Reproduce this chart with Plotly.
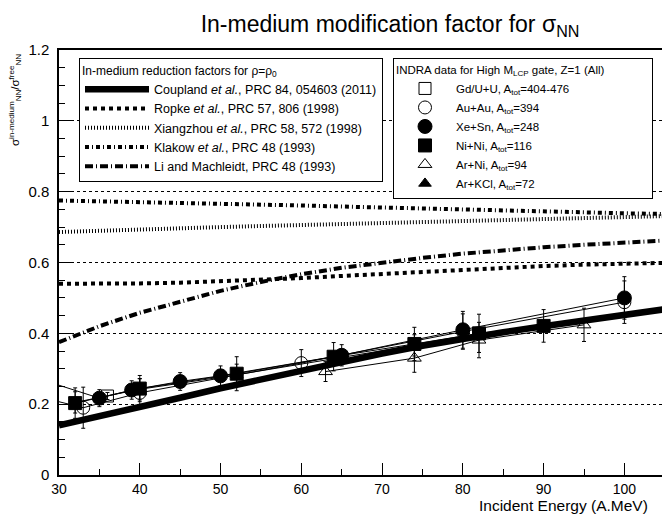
import plotly.graph_objects as go

# ---------------- data ----------------
E_theory = [30, 35, 40, 45, 50, 55, 60, 65, 70, 75, 80, 85, 90, 95, 100, 105]
coupland = [0.140, 0.165, 0.190, 0.218, 0.245, 0.270, 0.295, 0.320, 0.343, 0.365, 0.385, 0.403, 0.420, 0.437, 0.453, 0.468]
ropke    = [0.540, 0.540, 0.541, 0.543, 0.547, 0.551, 0.556, 0.562, 0.568, 0.574, 0.580, 0.585, 0.590, 0.594, 0.597, 0.599]
xiang    = [0.686, 0.690, 0.693, 0.697, 0.700, 0.703, 0.706, 0.709, 0.712, 0.715, 0.718, 0.721, 0.724, 0.727, 0.729, 0.731]
klakow   = [0.775, 0.773, 0.771, 0.769, 0.766, 0.764, 0.761, 0.758, 0.755, 0.752, 0.749, 0.747, 0.744, 0.741, 0.739, 0.737]
li_mach  = [0.375, 0.420, 0.458, 0.490, 0.520, 0.545, 0.567, 0.585, 0.600, 0.613, 0.625, 0.635, 0.643, 0.650, 0.656, 0.662]

theory_names = [
    "Coupland <i>et al.</i>, PRC 84, 054603 (2011)",
    "Ropke <i>et al.</i>, PRC 57, 806 (1998)",
    "Xiangzhou <i>et al.</i>, PRC 58, 572 (1998)",
    "Klakow <i>et al.</i>, PRC 48 (1993)",
    "Li and Machleidt, PRC 48 (1993)",
]

# INDRA data
gdu_E,  gdu_v,  gdu_err  = [36], [0.223], [0.010]
auau_E, auau_v, auau_err = [25, 33, 40, 60, 80, 100], [0.235, 0.190, 0.232, 0.316, 0.405, 0.488], [0.05, 0.058, 0.040, 0.038, 0.050, 0.060]
xesn_E, xesn_v, xesn_err = [25, 35, 39, 45, 50, 65, 80, 100], [0.290, 0.217, 0.240, 0.264, 0.280, 0.338, 0.410, 0.500], [0.03, 0.024, 0.026, 0.025, 0.028, 0.030, 0.052, 0.060]
nini_E, nini_v, nini_err = [32, 40, 52, 64, 74, 82, 90], [0.203, 0.244, 0.286, 0.334, 0.370, 0.400, 0.421], [0.043, 0.037, 0.048, 0.040, 0.047, 0.054, 0.046]
arni_E, arni_v, arni_err = [63, 74, 82, 95], [0.292, 0.330, 0.381, 0.424], [0.028, 0.040, 0.050, 0.047]
arkcl_E, arkcl_v, arkcl_err = [32, 40, 52, 74], [0.205, 0.242, 0.283, 0.366], [0.03, 0.03, 0.03, 0.03]

data_names = [
    "Gd/U+U, A<sub>tot</sub>=404-476",
    "Au+Au, A<sub>tot</sub>=394",
    "Xe+Sn, A<sub>tot</sub>=248",
    "Ni+Ni, A<sub>tot</sub>=116",
    "Ar+Ni, A<sub>tot</sub>=94",
    "Ar+KCl, A<sub>tot</sub>=72",
]

x_ticks = [30, 40, 50, 60, 70, 80, 90, 100]
y_ticks = [0, 0.2, 0.4, 0.6, 0.8, 1.0, 1.2]

# ---------------- figure ----------------
fig = go.Figure()

theory = [
    (coupland, dict(width=6.5, dash="solid")),
    (ropke,    dict(width=4, dash="4px,4px")),
    (xiang,    dict(width=4, dash="1px,2px")),
    (klakow,   dict(width=4, dash="4px,3px,1px,3px")),
    (li_mach,  dict(width=4, dash="8px,3px,1px,3px")),
]
for i, ((vals, ls), name) in enumerate(zip(theory, theory_names)):
    fig.add_trace(go.Scatter(x=E_theory, y=vals, mode="lines", name=name,
                             line=dict(color="black", **ls), legend="legend"))

series = [
    (gdu_E, gdu_v, gdu_err, "square-open", 12),
    (auau_E, auau_v, auau_err, "circle-open", 13),
    (xesn_E, xesn_v, xesn_err, "circle", 14),
    (arkcl_E, arkcl_v, arkcl_err, "triangle-up", 11),
    (nini_E, nini_v, nini_err, "square", 13),
    (arni_E, arni_v, arni_err, "triangle-up-open", 12),
]
names_order = [data_names[0], data_names[1], data_names[2], data_names[5], data_names[3], data_names[4]]
legend_rank = {data_names[i]: i for i in range(6)}

# connecting lines
for (ex, ev, ee, sym, sz) in series:
    fig.add_trace(go.Scatter(x=ex, y=ev, mode="lines", showlegend=False,
                             line=dict(color="black", width=1), hoverinfo="skip"))
# markers with error bars
for (ex, ev, ee, sym, sz), name in zip(series, names_order):
    fig.add_trace(go.Scatter(
        x=ex, y=ev, mode="markers", name=name, legend="legend2",
        legendrank=legend_rank[name],
        marker=dict(symbol=sym, size=sz, color="black", line=dict(color="black", width=1)),
        error_y=dict(type="data", array=ee, visible=True, color="black", thickness=1, width=2),
    ))

NB = "\u00a0"
L, T, B = 59, 50, 41
PW, PH = 662 - L, 516 - T - B

def px_x(p):
    return (p - L) / PW

def px_y(p):
    return (516 - B - p) / PH

fig.update_layout(
    width=662, height=516,
    margin=dict(l=L, r=0, t=T, b=B),
    paper_bgcolor="white", plot_bgcolor="white",
    font=dict(family="Liberation Sans, Arial, sans-serif", color="black"),
    showlegend=True,
    title=dict(text="In-medium modification factor for σ<sub>NN</sub>",
               x=390 / 662, xanchor="center", y=1 - 24 / 516, yanchor="middle",
               font=dict(size=23, color="black")),
    legend=dict(x=px_x(79), xanchor="left", y=px_y(58), yanchor="top",
                bgcolor="white", bordercolor="black", borderwidth=1,
                font=dict(size=12.5), itemwidth=64, tracegroupgap=0,
                title=dict(text="In-medium reduction factors for ρ=ρ<sub>0</sub>", font=dict(size=12))),
    legend2=dict(x=px_x(393), xanchor="left", y=px_y(58), yanchor="top",
                 bgcolor="white", bordercolor="black", borderwidth=1,
                 font=dict(size=11.5), itemwidth=52, tracegroupgap=0,
                 title=dict(text="INDRA data for High M<sub>LCP</sub> gate, Z=1 (All)" + NB * 14,
                            font=dict(size=11.5))),
    xaxis=dict(range=[30, 30 + PW / 8.077], tickvals=x_ticks, ticks="inside", ticklen=12,
               tickcolor="black", showline=True, linecolor="black", linewidth=1.5,
               mirror=True, showgrid=False, zeroline=False,
               tickfont=dict(size=14),
               minor=dict(dtick=5, tick0=30, ticks="inside", ticklen=6, tickcolor="black", showgrid=False)),
    yaxis=dict(range=[0, 1.2], tickvals=y_ticks, ticks="inside", ticklen=12,
               tickcolor="black", showline=True, linecolor="black", linewidth=1.5,
               mirror=False, showgrid=True, gridcolor="black", griddash="dot", gridwidth=1,
               zeroline=False, tickfont=dict(size=15), ticklabelstandoff=5,
               minor=dict(dtick=0.05, tick0=0, ticks="inside", ticklen=6, tickcolor="black", showgrid=False)),
    annotations=[
        dict(text="σ<sup>in-medium</sup><sub>NN</sub>/σ<sup>free</sup><sub>NN</sub>",
             xref="paper", yref="paper", x=px_x(15), y=px_y(52), xanchor="center", yanchor="top",
             textangle=-90, showarrow=False, font=dict(size=11.5)),
        dict(text="Incident Energy (A.MeV)", xref="paper", yref="paper",
             x=px_x(477), y=px_y(505), xanchor="left", yanchor="middle",
             showarrow=False, font=dict(size=15.5)),
    ],
)

# remove the default 8px page margin so the figure sits at the window origin
fig.write_html("out.html", config={"displayModeBar": False},
               post_script="document.body.style.margin='0';document.body.style.overflow='hidden';")
